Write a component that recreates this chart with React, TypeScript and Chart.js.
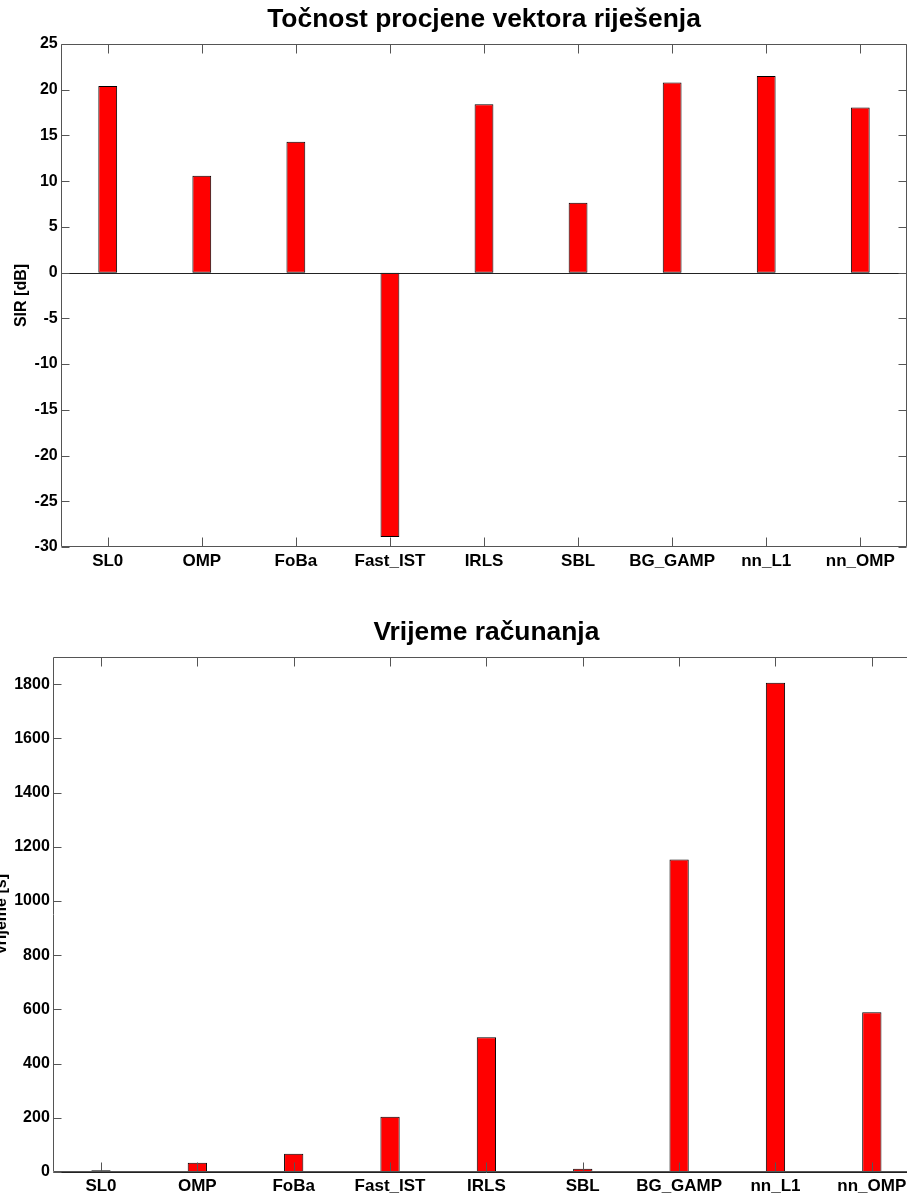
import React, { useEffect, useRef } from 'react';
import { Chart, registerables } from 'chart.js';

Chart.register(...registerables);

const categories = ['SL0', 'OMP', 'FoBa', 'Fast_IST', 'IRLS', 'SBL', 'BG_GAMP', 'nn_L1', 'nn_OMP'];
const sirValues = [20.4, 10.6, 14.3, -28.9, 18.4, 7.65, 20.8, 21.5, 18.05];
const timeValues = [6, 34, 67, 204, 497, 12, 1153, 1805, 589];

const topTitle = 'Točnost procjene vektora riješenja';
const bottomTitle = 'Vrijeme računanja';
const topYLabel = 'SIR [dB]';
const bottomYLabel = 'Vrijeme [s]';

const FONT = '"Liberation Sans", Arial, Helvetica, sans-serif';

const framePlugin = {
  id: 'matlabFrame',
  afterDatasetsDraw(chart: any) {
    const { ctx, chartArea } = chart;
    const { left, right, top, bottom } = chartArea;
    const xs = chart.scales.x;
    const ys = chart.scales.y;
    const L = Math.round(left) + 0.5;
    const R = Math.round(right) - 0.5;
    const T = Math.round(top) + 0.5;
    const B = Math.round(bottom) - 0.5;
    ctx.save();
    // zero baseline
    const z = Math.round(ys.getPixelForValue(0)) + 0.5;
    ctx.strokeStyle = '#222';
    ctx.lineWidth = 1;
    ctx.beginPath();
    ctx.moveTo(L, z);
    ctx.lineTo(R, z);
    ctx.stroke();
    // frame
    ctx.strokeStyle = '#555';
    ctx.beginPath();
    ctx.moveTo(L, T);
    ctx.lineTo(R, T);
    ctx.lineTo(R, B);
    ctx.lineTo(L, B);
    ctx.closePath();
    ctx.stroke();
    // x ticks (inward, top and bottom)
    ctx.beginPath();
    for (let i = 0; i < xs.ticks.length; i++) {
      const px = Math.round(xs.getPixelForTick(i)) + 0.5;
      ctx.moveTo(px, T);
      ctx.lineTo(px, T + 9);
      ctx.moveTo(px, B);
      ctx.lineTo(px, B - 9);
    }
    // y ticks (inward, left and right)
    for (const t of ys.ticks) {
      const py = Math.round(ys.getPixelForValue(t.value)) + 0.5;
      ctx.moveTo(L, py);
      ctx.lineTo(L + 8, py);
      ctx.moveTo(R, py);
      ctx.lineTo(R - 8, py);
    }
    ctx.stroke();
    ctx.restore();
  },
};

function makeConfig(
  title: string,
  yLabel: string,
  values: number[],
  yMin: number,
  yMax: number,
  step: number,
  yWidth: number,
  padRight: number
): any {
  return {
    type: 'bar',
    data: {
      labels: categories,
      datasets: [
        {
          data: values,
          backgroundColor: '#ff0000',
          borderColor: '#000000',
          borderWidth: 1,
          borderSkipped: false,
          barPercentage: 0.2,
          categoryPercentage: 1,
        },
      ],
    },
    options: {
      animation: false,
      responsive: false,
      devicePixelRatio: 1,
      layout: { padding: { left: 0, right: padRight, top: 0, bottom: 0 } },
      plugins: {
        legend: { display: false },
        tooltip: { enabled: false },
        title: {
          display: true,
          fullSize: false,
          text: title,
          color: '#000',
          font: { family: FONT, size: 26.4, weight: 'bold', lineHeight: 1.2 },
          padding: { top: 4, bottom: 8.32 },
        },
      },
      scales: {
        x: {
          type: 'category',
          grid: { display: false, drawTicks: false },
          border: { display: false },
          ticks: {
            color: '#000',
            font: { family: FONT, size: 17, weight: 'bold' },
            padding: 4,
            maxRotation: 0,
            autoSkip: false,
          },
          afterFit: (s: any) => {
            s.height = 53;
          },
        },
        y: {
          type: 'linear',
          min: yMin,
          max: yMax,
          grid: { display: false, drawTicks: false },
          border: { display: false },
          ticks: {
            stepSize: step,
            color: '#000',
            font: { family: FONT, size: 16, weight: 'bold' },
            padding: 3,
            callback: (v: any) => String(v),
          },
          title: {
            display: true,
            text: yLabel,
            color: '#000',
            font: { family: FONT, size: 16, weight: 'bold' },
            padding: { top: 12, bottom: 0 },
          },
          afterBuildTicks: (s: any) => {
            s.ticks = s.ticks.filter((t: any) => Math.abs(t.value / step - Math.round(t.value / step)) < 1e-9);
          },
          afterFit: (s: any) => {
            s.width = yWidth;
          },
        },
      },
    },
    plugins: [framePlugin],
  };
}

export default function App() {
  const topRef = useRef<HTMLCanvasElement>(null);
  const botRef = useRef<HTMLCanvasElement>(null);

  useEffect(() => {
    document.body.style.margin = '0';
    const c1 = new Chart(
      topRef.current as HTMLCanvasElement,
      makeConfig(topTitle, topYLabel, sirValues, -30, 25, 5, 60.7, 2.7)
    );
    const c2 = new Chart(
      botRef.current as HTMLCanvasElement,
      makeConfig(bottomTitle, bottomYLabel, timeValues, 0, 1900, 200, 72.8, 0)
    );
    return () => {
      c1.destroy();
      c2.destroy();
    };
  }, []);

  return (
    <div
      style={{
        position: 'fixed',
        left: 0,
        top: 0,
        width: 907,
        height: 1195,
        overflow: 'hidden',
        background: '#fff',
      }}
    >
      <canvas
        ref={topRef}
        width={910}
        height={600}
        style={{ position: 'absolute', left: 0, top: 0, width: 910, height: 600 }}
      />
      <canvas
        ref={botRef}
        width={940}
        height={612}
        style={{ position: 'absolute', left: -20, top: 613, width: 940, height: 612 }}
      />
    </div>
  );
}
